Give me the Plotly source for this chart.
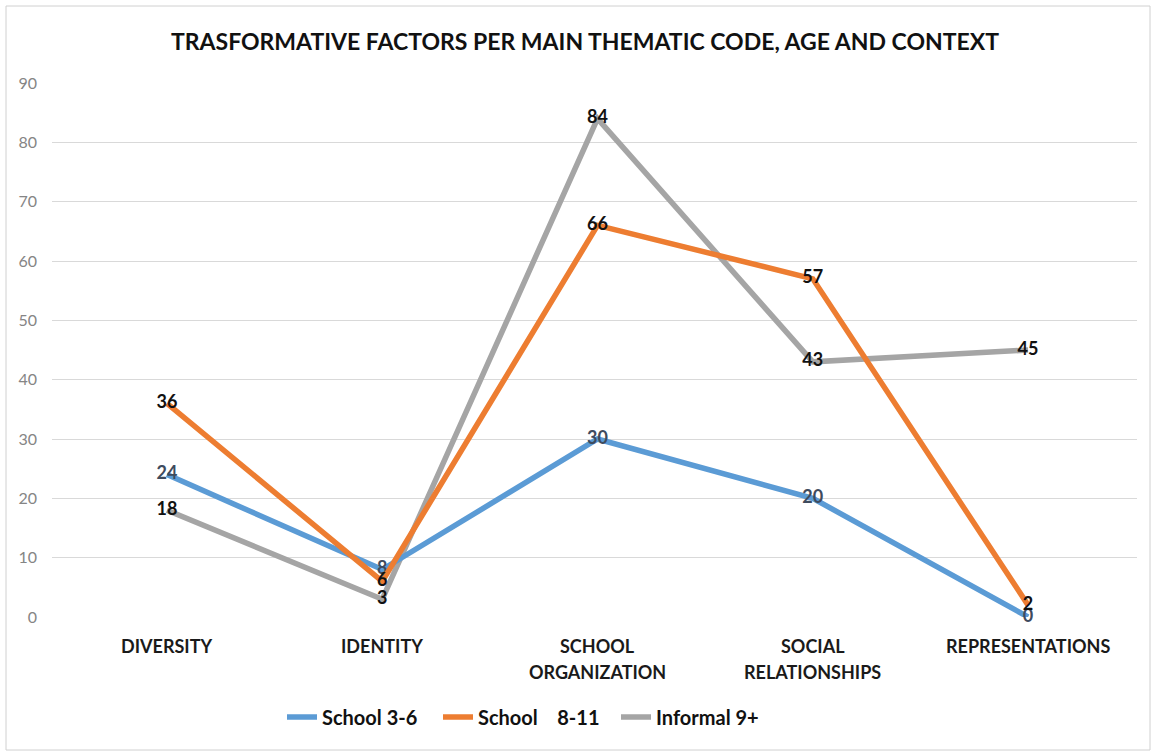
import plotly.graph_objects as go

# Categories (thematic codes) and the counts per series
categories = ["DIVERSITY", "IDENTITY", "SCHOOL ORGANIZATION", "SOCIAL RELATIONSHIPS", "REPRESENTATIONS"]
category_lines = [["DIVERSITY"], ["IDENTITY"], ["SCHOOL", "ORGANIZATION"],
                  ["SOCIAL", "RELATIONSHIPS"], ["REPRESENTATIONS"]]
school_3_6 = [24, 8, 30, 20, 0]
school_8_11 = [36, 6, 66, 57, 2]
informal_9 = [18, 3, 84, 43, 45]
y_ticks = [0, 10, 20, 30, 40, 50, 60, 70, 80, 90]

W, H = 1160, 756
PL, PR, PT, PB = 52, 1137, 83, 617  # plot area in pixels
FONT = "Lato, 'Open Sans', sans-serif"


def px_x(p):
    return (p - PL) / (PR - PL)


def px_y(p):
    return (PB - p) / (PB - PT)


x_idx = list(range(len(categories)))

# name, values, line colour, label colour, legend id, legend text start (px)
series = [
    ("School 3-6", school_3_6, "#5B9BD5", "#3E4B5E", "legend", 322),
    ("School\u00a0\u00a0\u00a0 8-11", school_8_11, "#ED7D31", "#111111", "legend2", 478),
    ("Informal 9+", informal_9, "#A5A5A5", "#111111", "legend3", 656),
]

fig = go.Figure()
# drawing order: gray underneath, then blue, then orange
for idx in (2, 0, 1):
    name, vals, color, tcolor, leg, _ = series[idx]
    fig.add_trace(go.Scatter(
        x=x_idx, y=vals, name=name, mode="lines+text",
        line=dict(color=color, width=5.5),
        text=[str(v) for v in vals], textposition="middle center",
        textfont=dict(family=FONT, size=18, color=tcolor, weight="bold"),
        legend=leg, cliponaxis=False, hoverinfo="skip",
    ))

annotations = []
for i, lines in enumerate(category_lines):
    for j, t in enumerate(lines):
        annotations.append(dict(
            x=i, xref="x", y=px_y(646 + 26 * j), yref="paper",
            text=t, showarrow=False, xanchor="center", yanchor="middle",
            font=dict(family=FONT, size=18, color="#1a1a1a", weight="bold"),
        ))

legend_style = dict(orientation="h", xanchor="left", y=px_y(717), yanchor="middle",
                    font=dict(family=FONT, size=20, color="#111111", weight="bold"),
                    bgcolor="rgba(0,0,0,0)")
legends = {}
for name, _, _, _, leg, text_x in series:
    legends[leg] = dict(legend_style, x=px_x(text_x - 40))

fig.update_layout(
    width=W, height=H,
    margin=dict(l=PL, r=W - PR, t=PT, b=H - PB),
    paper_bgcolor="white", plot_bgcolor="white",
    title=dict(text="TRASFORMATIVE FACTORS PER MAIN THEMATIC CODE, AGE AND CONTEXT",
               x=585 / W, xanchor="center", y=1 - 42 / H, yanchor="middle",
               font=dict(family=FONT, size=23, color="#111111", weight="bold")),
    xaxis=dict(range=[-0.534, 4.506], showticklabels=False, showgrid=False,
               zeroline=False, showline=False, fixedrange=True),
    yaxis=dict(range=[0, 90], tickvals=y_ticks, showgrid=True, gridcolor="#D9D9D9",
               gridwidth=1, zeroline=False, showline=False, ticks="",
               tickfont=dict(family=FONT, size=16, color="#858585"),
               ticklabelstandoff=14, fixedrange=True),
    showlegend=True,
    annotations=annotations,
    shapes=[dict(type="rect", xref="paper", yref="paper",
                 x0=px_x(6), x1=px_x(1150), y0=px_y(750), y1=px_y(6),
                 line=dict(color="#D0D0D0", width=1), fillcolor="rgba(0,0,0,0)", layer="below")],
    **legends,
)

fig.write_html("out.html")
